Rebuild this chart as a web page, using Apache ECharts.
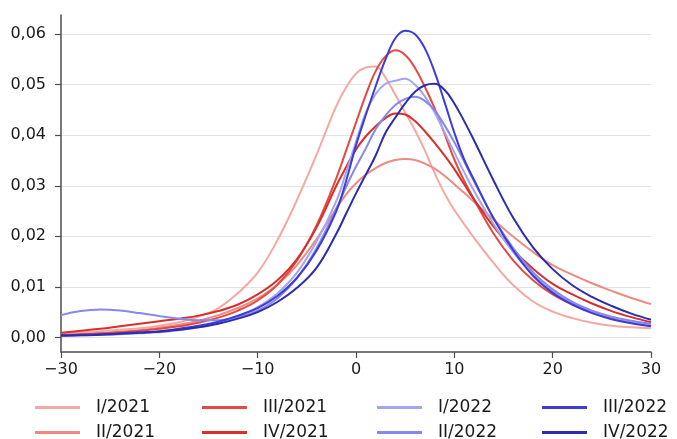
<!DOCTYPE html>
<html>
<head>
<meta charset="utf-8">
<script src="https://cdn.jsdelivr.net/npm/echarts@6/dist/echarts.min.js"></script>
<style>
html,body{margin:0;padding:0;background:#fff;}
#chart{width:677px;height:439px;}
</style>
</head>
<body>
<div id="chart"></div>
<script>
// x positions shared by all series
const xs = [-30,-28,-26,-24,-22,-20,-18,-16,-14,-12,-10,-8,-6,-4,-2,-1,0,1,2,3,4,5,6,7,8,9,10,11,12,14,16,18,20,22,24,26,28,30];

const seriesNames = ['I/2021','II/2021','III/2021','IV/2021','I/2022','II/2022','III/2022','IV/2022'];

const q1_2021 = [0.0008,0.0010,0.0012,0.0015,0.0018,0.0023,0.0030,0.0041,0.0058,0.0088,0.0128,0.0192,0.0272,0.0362,0.0458,0.0495,0.0522,0.0534,0.0536,0.0514,0.0480,0.0445,0.0410,0.0370,0.0325,0.0285,0.0252,0.0224,0.0197,0.0147,0.0103,0.0071,0.0051,0.0038,0.0029,0.0023,0.0020,0.0018];
const q2_2021 = [0.0004,0.0006,0.0008,0.0011,0.0014,0.0019,0.0025,0.0033,0.0044,0.0058,0.0077,0.0104,0.0143,0.0195,0.0255,0.0283,0.0305,0.0322,0.0335,0.0345,0.0351,0.0353,0.0351,0.0344,0.0334,0.0320,0.0303,0.0286,0.0268,0.0233,0.0199,0.0169,0.0143,0.0124,0.0107,0.0092,0.0078,0.0066];
const q3_2021 = [0.0005,0.0006,0.0008,0.0010,0.0013,0.0017,0.0022,0.0029,0.0039,0.0053,0.0073,0.0104,0.0152,0.0222,0.0315,0.0370,0.0425,0.0480,0.0527,0.0556,0.0568,0.0559,0.0533,0.0496,0.0453,0.0403,0.0352,0.0310,0.0273,0.0205,0.0152,0.0113,0.0085,0.0065,0.0050,0.0039,0.0030,0.0023];
const q4_2021 = [0.0009,0.0013,0.0017,0.0022,0.0027,0.0032,0.0037,0.0043,0.0052,0.0065,0.0085,0.0113,0.0155,0.0218,0.0300,0.0337,0.0372,0.0398,0.0418,0.0434,0.0443,0.0441,0.0428,0.0408,0.0385,0.0360,0.0333,0.0303,0.0273,0.0219,0.0173,0.0136,0.0106,0.0085,0.0067,0.0052,0.0040,0.0030];
const q1_2022 = [0.0003,0.0004,0.0005,0.0006,0.0008,0.0010,0.0014,0.0020,0.0029,0.0042,0.0060,0.0087,0.0128,0.0190,0.0270,0.0327,0.0387,0.0445,0.0482,0.0502,0.0508,0.0512,0.0500,0.0477,0.0445,0.0406,0.0366,0.0327,0.0290,0.0224,0.0168,0.0124,0.0091,0.0068,0.0052,0.0040,0.0031,0.0025];
const q2_2022 = [0.0044,0.0052,0.0055,0.0053,0.0048,0.0042,0.0037,0.0034,0.0034,0.0040,0.0053,0.0077,0.0117,0.0177,0.0255,0.0298,0.0338,0.0374,0.0412,0.0439,0.0460,0.0472,0.0476,0.0468,0.0449,0.0420,0.0386,0.0348,0.0309,0.0236,0.0176,0.0129,0.0095,0.0070,0.0053,0.0041,0.0033,0.0027];
const q3_2022 = [0.0004,0.0005,0.0006,0.0008,0.0010,0.0012,0.0017,0.0023,0.0031,0.0043,0.0058,0.0082,0.0118,0.0172,0.0250,0.0310,0.0380,0.0440,0.0497,0.0550,0.0592,0.0607,0.0600,0.0572,0.0525,0.0466,0.0405,0.0352,0.0312,0.0235,0.0172,0.0122,0.0088,0.0065,0.0048,0.0036,0.0028,0.0022];
const q4_2022 = [0.0003,0.0004,0.0005,0.0007,0.0009,0.0011,0.0015,0.0020,0.0027,0.0037,0.0050,0.0070,0.0098,0.0138,0.0205,0.0245,0.0285,0.0322,0.0360,0.0405,0.0435,0.0463,0.0486,0.0499,0.0502,0.0490,0.0463,0.0428,0.0390,0.0310,0.0236,0.0178,0.0135,0.0103,0.0080,0.0062,0.0047,0.0035];

const yTicks = [0,0.01,0.02,0.03,0.04,0.05,0.06];
const xTicks = [-30,-20,-10,0,10,20,30];

const allValues = [q1_2021,q2_2021,q3_2021,q4_2021,q1_2022,q2_2022,q3_2022,q4_2022];
const colors = ['#f5a8a2','#ee8a80','#e5493f','#d6302a','#a3a5f2','#8588ec','#3c3cd6','#2c2cae'];

const chart = echarts.init(document.getElementById('chart'), null, {renderer:'canvas'});
const font = 'DejaVu Sans';

const series = seriesNames.map((name, k) => ({
  name: name,
  type: 'line',
  data: xs.map((x, i) => [x, allValues[k][i]]),
  smooth: 0.4,
  symbol: 'none',
  lineStyle: {color: colors[k], width: 2},
  itemStyle: {color: colors[k]},
  z: 2 + k
}));

const legendCols = [[0,1],[2,3],[4,5],[6,7]];
const legendLefts = [35, 202, 377, 542];
const legends = legendCols.map((pair, c) => ({
  orient: 'vertical',
  left: legendLefts[c],
  top: 399,
  height: 80,
  itemWidth: 45,
  itemHeight: 3,
  itemGap: 8,
  icon: 'rect',
  selectedMode: false,
  padding: 0,
  data: pair.map(i => seriesNames[i]),
  textStyle: {fontFamily: font, fontSize: 17, lineHeight: 17, color: '#1a1a1a', padding: [0,0,0,11]}
}));

chart.setOption({
  animation: false,
  backgroundColor: '#ffffff',
  legend: legends,
  grid: {left: 61, right: 26, top: 15, bottom: 87, containLabel: false},
  xAxis: {
    type: 'value',
    min: -30, max: 30, interval: 10,
    axisLine: {show: true, onZero: false, lineStyle: {color: '#4d4d4d', width: 1.5}},
    axisTick: {show: true, length: 6, lineStyle: {color: '#4d4d4d', width: 1.2}, customValues: xTicks},
    axisLabel: {fontFamily: font, fontSize: 16, color: '#1a1a1a', margin: 10, customValues: xTicks,
      formatter: v => (v < 0 ? '\u2212' + Math.abs(v) : String(v))},
    splitLine: {show: false}
  },
  yAxis: {
    type: 'value',
    min: -0.0029, max: 0.0638,
    axisLine: {show: true, onZero: false, lineStyle: {color: '#4d4d4d', width: 1.5}},
    axisTick: {show: true, length: 6, lineStyle: {color: '#4d4d4d', width: 1.2}, customValues: yTicks},
    axisLabel: {fontFamily: font, fontSize: 16, color: '#1a1a1a', margin: 15, customValues: yTicks,
      formatter: v => v.toFixed(2).replace('.', ',')},
    splitLine: {show: true, lineStyle: {color: '#e3e3e3', width: 1.2}}
  },
  series: series
});
</script>
</body>
</html>
